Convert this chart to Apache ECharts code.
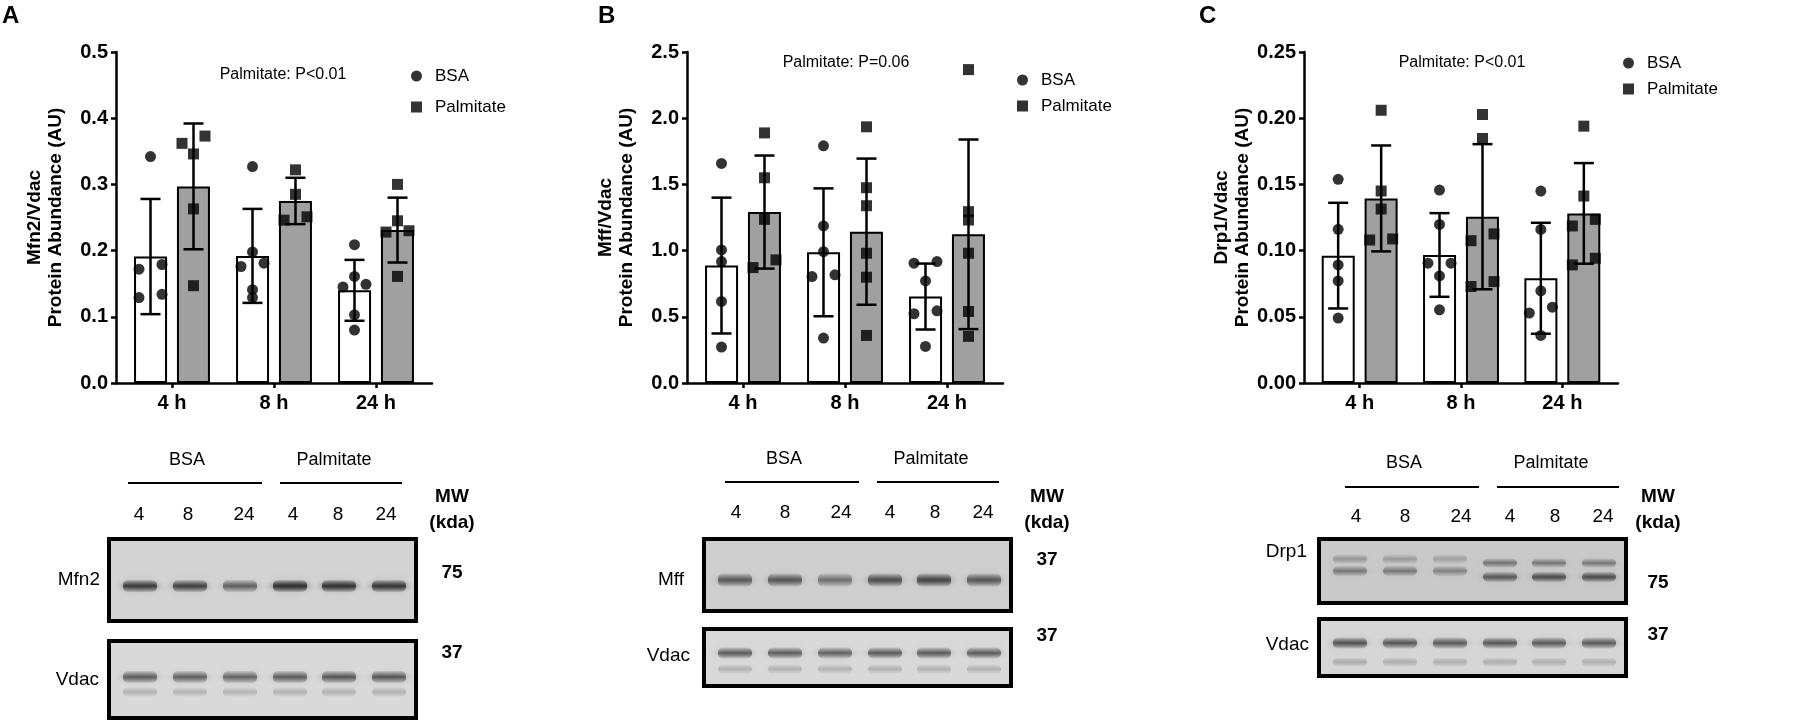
<!DOCTYPE html>
<html>
<head>
<meta charset="utf-8">
<script src="https://cdn.jsdelivr.net/npm/echarts@6/dist/echarts.min.js"></script>
<style>
  html, body { margin: 0; padding: 0; background: #fff; }
  #main { width: 1799px; height: 723px; }
</style>
</head>
<body>
<div id="main"></div>
<script>
(function () {
    "use strict";

    var FONT = "'Liberation Sans', Arial, sans-serif";

    // ---- 数据 ----
    var hours = ["4 h", "8 h", "24 h"];
    var laneLabels = ["4", "8", "24", "4", "8", "24"];

    // A: Mfn2/Vdac
    var mfn2BsaPts = [[0.342, 0.172, 0.179, 0.129, 0.134], [0.327, 0.198, 0.176, 0.181, 0.129, 0.141], [0.209, 0.149, 0.161, 0.145, 0.103, 0.080]];
    var mfn2PalmPts = [[0.373, 0.346, 0.362, 0.263, 0.147], [0.322, 0.285, 0.246, 0.251], [0.300, 0.245, 0.228, 0.230, 0.161]];
    var mfn2BsaMean = [0.191, 0.192, 0.140];
    var mfn2BsaSd = [0.087, 0.071, 0.046];
    var mfn2PalmMean = [0.297, 0.275, 0.231];
    var mfn2PalmSd = [0.095, 0.035, 0.049];

    // B: Mff/Vdac
    var mffBsaPts = [[1.658, 1.005, 0.917, 0.616, 0.271], [1.791, 1.186, 0.992, 0.817, 0.804, 0.339], [0.905, 0.917, 0.771, 0.545, 0.523, 0.276]];
    var mffPalmPts = [[1.889, 1.550, 1.236, 0.872, 0.930], [1.935, 1.475, 1.339, 0.980, 0.799, 0.359], [2.367, 1.294, 1.231, 0.980, 0.540, 0.352]];
    var mffBsaMean = [0.887, 0.987, 0.653];
    var mffBsaSd = [0.513, 0.483, 0.249];
    var mffPalmMean = [1.291, 1.143, 1.123];
    var mffPalmSd = [0.427, 0.552, 0.716];

    // C: Drp1/Vdac
    var drp1BsaPts = [[0.1538, 0.1161, 0.0892, 0.0771, 0.0490], [0.1457, 0.1198, 0.0905, 0.0905, 0.0809, 0.0553], [0.145, 0.116, 0.0696, 0.0573, 0.0528, 0.0359]];
    var drp1PalmPts = [[0.206, 0.145, 0.1314, 0.108, 0.1088], [0.2028, 0.1847, 0.1075, 0.1126, 0.0729, 0.0766], [0.194, 0.1412, 0.1186, 0.1236, 0.0892, 0.0942]];
    var drp1BsaMean = [0.0962, 0.0967, 0.0791];
    var drp1BsaSd = [0.0399, 0.0316, 0.0419];
    var drp1PalmMean = [0.1394, 0.1256, 0.1281];
    var drp1PalmSd = [0.040, 0.0548, 0.038];

    // 印迹条带深浅（BSA 4/8/24, Palmitate 4/8/24）
    var mfn2Band = [0.85, 0.80, 0.62, 0.95, 0.92, 0.90];
    var vdacBandA = [0.70, 0.68, 0.66, 0.70, 0.74, 0.74];
    var mffBand = [0.72, 0.74, 0.58, 0.80, 0.86, 0.74];
    var vdacBandB = [0.72, 0.70, 0.68, 0.72, 0.72, 0.72];
    var drp1Upper = [0.38, 0.34, 0.30, 0.62, 0.60, 0.58];
    var drp1Lower = [0.55, 0.55, 0.48, 0.78, 0.86, 0.86];
    var vdacBandC = [0.78, 0.74, 0.72, 0.74, 0.72, 0.72];

    // ---- 布局 ----
    var GRID_TOP = 52, GRID_H = 331, PAD = 5;
    var BAR_W = 33, BAR_SHIFT = 21.5, SYM = 11, SPREAD = 11.5;

    var panels = [
        { letter: "A", letterX: 2, left: 116, width: 316, yMax: 0.5, step: 0.1, dec: 1,
          yName: "Mfn2/Vdac\nProtein Abundance (AU)", pText: "Palmitate: P<0.01", pX: 283, pY: 75,
          legLeft: 411, legTop: 66, legGap: 11,
          bsa: mfn2BsaPts, palm: mfn2PalmPts, bsaMean: mfn2BsaMean, bsaSd: mfn2BsaSd, palmMean: mfn2PalmMean, palmSd: mfn2PalmSd },
        { letter: "B", letterX: 598, left: 687, width: 316, yMax: 2.5, step: 0.5, dec: 1,
          yName: "Mff/Vdac\nProtein Abundance (AU)", pText: "Palmitate: P=0.06", pX: 846, pY: 63,
          legLeft: 1017, legTop: 70, legGap: 6,
          bsa: mffBsaPts, palm: mffPalmPts, bsaMean: mffBsaMean, bsaSd: mffBsaSd, palmMean: mffPalmMean, palmSd: mffPalmSd },
        { letter: "C", letterX: 1199, left: 1304, width: 314, yMax: 0.25, step: 0.05, dec: 2,
          yName: "Drp1/Vdac\nProtein Abundance (AU)", pText: "Palmitate: P<0.01", pX: 1462, pY: 63,
          legLeft: 1623, legTop: 53, legGap: 6,
          bsa: drp1BsaPts, palm: drp1PalmPts, bsaMean: drp1BsaMean, bsaSd: drp1BsaSd, palmMean: drp1PalmMean, palmSd: drp1PalmSd },
    ];

    var blots = [
        { left: 107, width: 311, headY: 460, lineY: 483, laneY: 515, shift: 0, mwDx: 34,
          rows: [
              { name: "Mfn2", kda: "75", top: 537, h: 86, fill: "#d3d3d3", labelY: 580, labelDx: 7, kdaY: 573,
                bands: [{ dy: 49, v: mfn2Band, h: 12, k: 1 }] },
              { name: "Vdac", kda: "37", top: 639, h: 81, fill: "#d9d9d9", labelY: 680, labelDx: 8, kdaY: 653,
                bands: [{ dy: 38, v: vdacBandA, h: 12, k: 0.9 }, { dy: 53, v: vdacBandA, h: 9, k: 0.3 }] },
          ] },
        { left: 702, width: 311, headY: 459, lineY: 482, laneY: 513, shift: 2, mwDx: 34,
          rows: [
              { name: "Mff", kda: "37", top: 537, h: 76, fill: "#cfcfcf", labelY: 580, labelDx: 18, kdaY: 560,
                bands: [{ dy: 43, v: mffBand, h: 13, k: 0.9 }] },
              { name: "Vdac", kda: "37", top: 627, h: 61, fill: "#d9d9d9", labelY: 656, labelDx: 12, kdaY: 636,
                bands: [{ dy: 26, v: vdacBandB, h: 11, k: 0.9 }, { dy: 42, v: vdacBandB, h: 9, k: 0.3 }] },
          ] },
        { left: 1317, width: 311, headY: 463, lineY: 487, laneY: 517, shift: 7, mwDx: 30,
          rows: [
              { name: "Drp1", kda: "75", top: 537, h: 68, fill: "#c9c9c9", labelY: 552, labelDx: 10, kdaY: 583,
                bands: [{ dy: 22, v: drp1Upper, h: 9, k: 0.8, palmDy: 4 }, { dy: 34, v: drp1Lower, h: 10, k: 0.85, palmDy: 6 }] },
              { name: "Vdac", kda: "37", top: 617, h: 61, fill: "#d6d6d6", labelY: 645, labelDx: 8, kdaY: 635,
                bands: [{ dy: 26, v: vdacBandC, h: 11, k: 0.9 }, { dy: 45, v: vdacBandC, h: 9, k: 0.3 }] },
          ] },
    ];
    var laneTextX = [32, 81, 137, 186, 231, 279];
    var laneBandX = [33, 83, 133, 183, 232, 282];

    /** 数值接近的点左右错开（类似 GraphPad 散点） */
    function spreadOffsets(vals, pxPerUnit) {
        var idx = vals.map(function (v, i) { return i; }).sort(function (a, b) { return vals[a] - vals[b]; });
        var off = vals.map(function () { return 0; });
        var k = 0;
        while (k < idx.length) {
            var end = k;
            while (end + 1 < idx.length && (vals[idx[end + 1]] - vals[idx[end]]) * pxPerUnit < 7.8) end++;
            if (end > k) {
                for (var j = k; j <= end; j++) off[idx[j]] = ((j - k) % 2 === 0 ? -1 : 1) * SPREAD;
            }
            k = end + 1;
        }
        return off;
    }

    function scatterData(pts, sign, pxPerUnit) {
        var out = [];
        pts.forEach(function (vals, i) {
            var offs = spreadOffsets(vals, pxPerUnit);
            vals.forEach(function (v, j) {
                out.push({ value: [i, v], symbolOffset: [sign * BAR_SHIFT + offs[j], 0] });
            });
        });
        return out;
    }

    function errorRender(params, api) {
        var xv = api.value(0), m = api.value(1), sd = api.value(2), g = api.value(3);
        var x = api.coord([xv, m])[0] + (g ? 1 : -1) * BAR_SHIFT;
        var yTop = api.coord([xv, m + sd])[1];
        var yBot = api.coord([xv, m - sd])[1];
        var st = { stroke: "#000", lineWidth: 2.5 };
        return {
            type: "group",
            children: [
                { type: "line", shape: { x1: x, y1: yTop, x2: x, y2: yBot }, style: st },
                { type: "line", shape: { x1: x - 10, y1: yTop, x2: x + 10, y2: yTop }, style: st },
                { type: "line", shape: { x1: x - 10, y1: yBot, x2: x + 10, y2: yBot }, style: st },
            ],
        };
    }

    function txt(x, y, text, size, bold, align, vAlign) {
        return {
            type: "text", x: x, y: y, silent: true,
            style: {
                text: text, fill: "#000",
                font: (bold ? "bold " : "") + size + "px " + FONT,
                textAlign: align || "center", align: align || "center",
                textVerticalAlign: vAlign || "middle", verticalAlign: vAlign || "middle",
            },
        };
    }

    var grid = [], xAxis = [], yAxis = [], series = [], legend = [], graphic = [];
    var axisLineStyle = { color: "#000", width: 2.5 };

    panels.forEach(function (p, n) {
        var pxPerUnit = GRID_H / p.yMax;
        var fi = 2 * n, di = 2 * n + 1;   // 外框坐标系 / 数据坐标系

        // 外框：完整坐标轴线、y 轴刻度与名称
        grid.push({ left: p.left, top: GRID_TOP, width: p.width, height: GRID_H });
        xAxis.push({
            type: "value", gridIndex: fi, min: 0, max: 1,
            axisLine: { show: true, lineStyle: axisLineStyle },
            axisTick: { show: false }, axisLabel: { show: false }, splitLine: { show: false },
        });
        yAxis.push({
            type: "value", gridIndex: fi, min: 0, max: p.yMax, interval: p.step,
            axisLine: { show: true, lineStyle: axisLineStyle },
            axisTick: { show: true, length: 5, lineStyle: axisLineStyle },
            axisLabel: {
                margin: 8, color: "#000", fontWeight: "bold", fontSize: 20, fontFamily: FONT,
                formatter: function (v) { return v.toFixed(p.dec); },
            },
            splitLine: { show: false },
            name: p.yName, nameLocation: "middle", nameRotate: 90, nameGap: 50,
            nameTextStyle: { color: "#000", fontWeight: "bold", fontSize: 19, lineHeight: 21, fontFamily: FONT },
        });

        // 数据：两端各内缩 PAD 像素的分类轴
        grid.push({ left: p.left + PAD, top: GRID_TOP, width: p.width - 2 * PAD, height: GRID_H });
        xAxis.push({
            type: "category", gridIndex: di, data: hours,
            axisLine: { show: false },
            axisTick: { show: true, alignWithLabel: true, length: 5, lineStyle: axisLineStyle },
            axisLabel: { margin: 10, color: "#000", fontWeight: "bold", fontSize: 20, fontFamily: FONT },
            splitLine: { show: false },
        });
        yAxis.push({ type: "value", gridIndex: di, min: 0, max: p.yMax, show: false });

        series.push({
            name: "BSA mean", type: "bar", xAxisIndex: di, yAxisIndex: di, z: 1,
            barWidth: BAR_W, barGap: "30%",
            data: p.bsaMean,
            itemStyle: { color: "#ffffff", borderColor: "#000", borderWidth: 2 },
        });
        series.push({
            name: "Palmitate mean", type: "bar", xAxisIndex: di, yAxisIndex: di, z: 1,
            barWidth: BAR_W, barGap: "30%",
            data: p.palmMean,
            itemStyle: { color: "#a0a0a0", borderColor: "#000", borderWidth: 2 },
        });

        var errData = [];
        p.bsaMean.forEach(function (m, i) { errData.push([i, m, p.bsaSd[i], 0]); });
        p.palmMean.forEach(function (m, i) { errData.push([i, m, p.palmSd[i], 1]); });
        series.push({
            name: "SD", type: "custom", xAxisIndex: di, yAxisIndex: di, z: 3,
            renderItem: errorRender, encode: { x: 0, y: 1 }, data: errData, clip: false,
        });

        series.push({
            name: "BSA", type: "scatter", xAxisIndex: di, yAxisIndex: di, z: 4,
            symbol: "circle", symbolSize: SYM, itemStyle: { color: "#000" },
            data: scatterData(p.bsa, -1, pxPerUnit),
        });
        series.push({
            name: "Palmitate", type: "scatter", xAxisIndex: di, yAxisIndex: di, z: 4,
            symbol: "rect", symbolSize: SYM, itemStyle: { color: "#000" },
            data: scatterData(p.palm, 1, pxPerUnit),
        });

        legend.push({
            orient: "vertical", left: p.legLeft, top: p.legTop, itemGap: p.legGap, padding: 0,
            itemWidth: SYM, itemHeight: SYM, selectedMode: false,
            data: [{ name: "BSA", icon: "circle" }, { name: "Palmitate", icon: "rect" }],
            textStyle: { color: "#000", fontSize: 17, lineHeight: 20, fontFamily: FONT, padding: [0, 0, 0, 8] },
        });

        graphic.push(txt(p.letterX, 4, p.letter, 24, true, "left", "top"));
        graphic.push(txt(p.pX, p.pY, p.pText, 16, false));
    });

    // ---- 印迹示意 ----
    blots.forEach(function (b) {
        var s = b.shift;
        var right = b.left + b.width;
        graphic.push(txt(b.left + 80 + s, b.headY, "BSA", 18, false));
        graphic.push(txt(b.left + 227 + s, b.headY, "Palmitate", 18, false));
        graphic.push({ type: "line", silent: true, shape: { x1: b.left + 21 + s, y1: b.lineY, x2: b.left + 155 + s, y2: b.lineY }, style: { stroke: "#000", lineWidth: 2 } });
        graphic.push({ type: "line", silent: true, shape: { x1: b.left + 173 + s, y1: b.lineY, x2: b.left + 295 + s, y2: b.lineY }, style: { stroke: "#000", lineWidth: 2 } });
        laneLabels.forEach(function (l, i) {
            graphic.push(txt(b.left + laneTextX[i] + s, b.laneY, l, 19, false));
        });
        graphic.push(txt(right + b.mwDx, 497, "MW", 19, true));
        graphic.push(txt(right + b.mwDx, 523, "(kda)", 19, true));

        b.rows.forEach(function (r) {
            graphic.push({
                type: "rect", silent: true, z: 1,
                shape: { x: b.left + 2, y: r.top + 2, width: b.width - 4, height: r.h - 4 },
                style: { fill: r.fill, stroke: "#000", lineWidth: 4 },
            });
            r.bands.forEach(function (band) {
                band.v.forEach(function (v, i) {
                    var a = v * band.k;
                    var dy = band.dy + (i >= 3 && band.palmDy ? band.palmDy : 0);
                    var cy = r.top + dy;
                    graphic.push({
                        type: "rect", silent: true, z: 2,
                        shape: { x: b.left + laneBandX[i] - 17, y: cy - band.h / 2, width: 34, height: band.h, r: 5 },
                        style: {
                            fill: new echarts.graphic.LinearGradient(0, 0, 0, 1, [
                                { offset: 0, color: "rgba(45,45,45," + (a * 0.15) + ")" },
                                { offset: 0.5, color: "rgba(45,45,45," + a + ")" },
                                { offset: 1, color: "rgba(45,45,45," + (a * 0.15) + ")" },
                            ]),
                            shadowBlur: 8, shadowColor: "rgba(45,45,45," + (a * 0.8) + ")",
                        },
                    });
                });
            });
            graphic.push(txt(b.left - r.labelDx, r.labelY, r.name, 19, false, "right"));
            graphic.push(txt(right + b.mwDx, r.kdaY, r.kda, 19, true));
        });
    });

    var chart = echarts.init(document.getElementById("main"), null, { renderer: "canvas" });
    chart.setOption({
        backgroundColor: "#ffffff",
        animation: false,
        textStyle: { fontFamily: FONT },
        grid: grid,
        xAxis: xAxis,
        yAxis: yAxis,
        legend: legend,
        series: series,
        graphic: graphic,
    });
})();
</script>
</body>
</html>
